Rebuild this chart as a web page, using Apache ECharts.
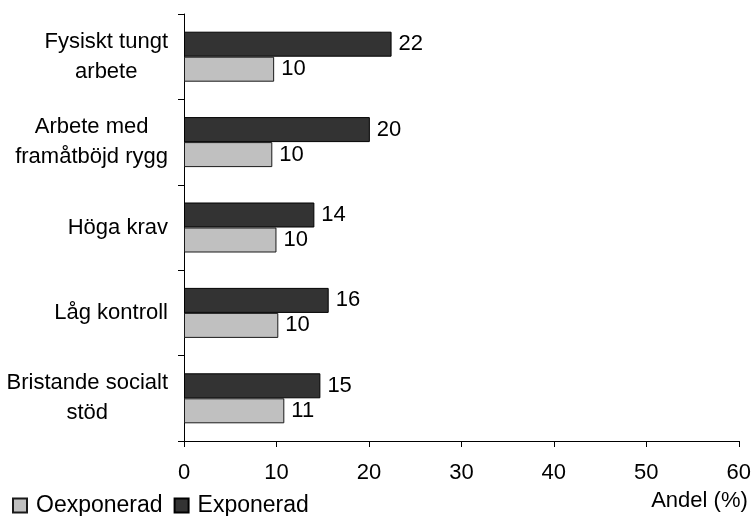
<!DOCTYPE html>
<html>
<head>
<meta charset="utf-8">
<style>
  html, body { margin: 0; padding: 0; background: #fff; }
  #chart { width: 754px; height: 516px; }
</style>
<script src="https://cdn.jsdelivr.net/npm/echarts@6/dist/echarts.min.js"></script>
</head>
<body>
<div id="chart"></div>
<script>
// Exposure categories, listed top to bottom
const categories = [
  'Fysiskt tungt\narbete',
  'Arbete med\nframåtböjd rygg',
  'Höga krav',
  'Låg kontroll',
  'Bristande socialt\nstöd'
];
// Share (%) per group
const exponerad = [22.45, 20.1, 14.1, 15.65, 14.75];
const oexponerad = [9.75, 9.55, 10.0, 10.2, 10.85];
const xTicks = [0, 10, 20, 30, 40, 50, 60];
const xAxisTitle = 'Andel (%)';

const FONT = 'Liberation Sans, Arial, sans-serif';
const FS = 22;
const chart = echarts.init(document.getElementById('chart'), null, { renderer: 'canvas' });

const valueLabel = {
  show: true,
  position: 'right',
  distance: 7,
  color: '#000',
  fontFamily: FONT,
  fontSize: FS,
  formatter: p => String(Math.round(p.value))
};

chart.setOption({
  animation: false,
  backgroundColor: '#fff',
  textStyle: { fontFamily: FONT, color: '#000' },
  grid: { left: 184, right: 13, top: 14, bottom: 75, containLabel: false },
  legend: {
    data: ['Oexponerad', 'Exponerad'],
    left: 12,
    top: 494,
    padding: 0,
    itemWidth: 14,
    itemHeight: 14,
    itemGap: 11,
    icon: 'rect',
    textStyle: { fontFamily: FONT, fontSize: 23, color: '#000', padding: [0, 0, 0, 4] }
  },
  xAxis: {
    type: 'value',
    min: xTicks[0],
    max: xTicks[xTicks.length - 1],
    interval: xTicks[1] - xTicks[0],
    name: xAxisTitle,
    nameLocation: 'end',
    nameGap: 9,
    nameTextStyle: {
      fontFamily: FONT, fontSize: FS, color: '#000',
      align: 'right', verticalAlign: 'top', padding: [49, 0, 0, 0]
    },
    axisLine: { show: true, lineStyle: { color: '#000', width: 1 } },
    axisTick: { show: true, length: 6, lineStyle: { color: '#000' } },
    axisLabel: { fontFamily: FONT, fontSize: FS, color: '#000', margin: 21 },
    splitLine: { show: false }
  },
  yAxis: {
    type: 'category',
    inverse: true,
    data: categories,
    axisLine: { show: true, lineStyle: { color: '#000', width: 1 } },
    axisTick: { show: true, length: 6, alignWithLabel: false, lineStyle: { color: '#000' } },
    axisLabel: {
      margin: 16,
      formatter: v => v.split('\n').map(l => '{c|' + l + '}').join('\n'),
      rich: {
        c: { fontFamily: FONT, fontSize: FS, color: '#000', align: 'center', lineHeight: 30 }
      }
    },
    splitLine: { show: false }
  },
  series: [
    {
      name: 'Exponerad',
      type: 'bar',
      data: exponerad,
      barWidth: 25,
      barGap: '0%',
      itemStyle: { color: '#333333', borderColor: '#000', borderWidth: 1 },
      label: valueLabel
    },
    {
      name: 'Oexponerad',
      type: 'bar',
      data: oexponerad,
      barWidth: 25,
      barGap: '0%',
      itemStyle: { color: '#c0c0c0', borderColor: '#1a1a1a', borderWidth: 1 },
      label: valueLabel
    }
  ]
});
</script>
</body>
</html>
